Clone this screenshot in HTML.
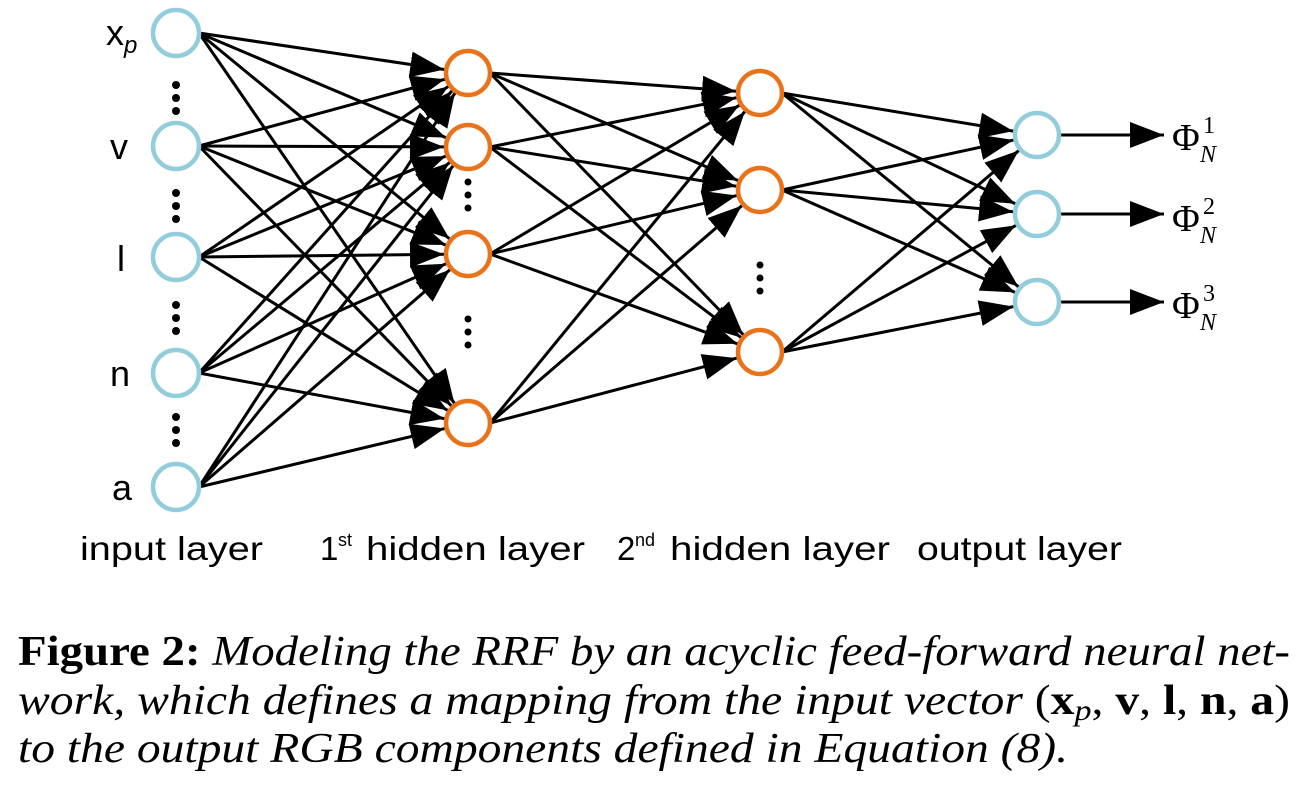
<!DOCTYPE html>
<html><head><meta charset="utf-8"><style>
html,body{margin:0;padding:0;background:#fff;}
svg{display:block}
</style></head><body>
<svg id="s" width="1310" height="788" viewBox="0 0 1310 788" xmlns="http://www.w3.org/2000/svg">
<defs>
<marker id="a" markerUnits="userSpaceOnUse" markerWidth="36" markerHeight="26" refX="34" refY="13" orient="auto">
<path d="M0,0 L34,13 L0,26 Z" fill="#000"/>
</marker>
</defs>
<g id="lines" stroke="#000" stroke-width="3" fill="none"></g>
<g id="nodes" fill="#fff" stroke-width="4.5"></g>
<g fill="#000">
<circle cx="176" cy="85" r="4"/><circle cx="176" cy="98" r="4"/><circle cx="176" cy="111" r="4"/>
<circle cx="176" cy="193" r="4"/><circle cx="176" cy="206" r="4"/><circle cx="176" cy="219" r="4"/>
<circle cx="176" cy="305" r="4"/><circle cx="176" cy="318" r="4"/><circle cx="176" cy="331" r="4"/>
<circle cx="176" cy="417" r="4"/><circle cx="176" cy="430" r="4"/><circle cx="176" cy="443" r="4"/>
<circle cx="468" cy="182" r="3.5"/><circle cx="468" cy="195" r="3.5"/><circle cx="468" cy="208" r="3.5"/>
<circle cx="468" cy="319" r="3.5"/><circle cx="468" cy="332" r="3.5"/><circle cx="468" cy="345" r="3.5"/>
<circle cx="760" cy="265" r="3.5"/><circle cx="760" cy="278" r="3.5"/><circle cx="760" cy="291" r="3.5"/>
</g>
<g font-family="Liberation Sans, sans-serif" font-size="36" fill="#000">
<text x="106" y="45">x<tspan font-size="24" font-style="italic" dy="8">p</tspan></text>
<text x="110" y="159">v</text>
<text x="117" y="271">l</text>
<text x="110" y="386">n</text>
<text x="112" y="500">a</text>
</g>
<g font-family="Liberation Serif, serif" font-size="38" fill="#000">
<text x="1172" y="150">Φ</text><text x="1203" y="133" font-size="24">1</text><text x="1200" y="162" font-size="24" font-style="italic">N</text>
<text x="1172" y="231">Φ</text><text x="1203" y="214" font-size="24">2</text><text x="1200" y="243" font-size="24" font-style="italic">N</text>
<text x="1172" y="318">Φ</text><text x="1203" y="301" font-size="24">3</text><text x="1200" y="330" font-size="24" font-style="italic">N</text>
</g>
<g font-family="Liberation Sans, sans-serif" font-size="33" fill="#000">
<text x="80" y="560" textLength="183" lengthAdjust="spacingAndGlyphs">input layer</text>
<text x="320" y="560">1</text><text x="338" y="546" font-size="18">st</text>
<text x="366" y="560" textLength="219" lengthAdjust="spacingAndGlyphs">hidden layer</text>
<text x="617" y="560">2</text><text x="635" y="546" font-size="18">nd</text>
<text x="670" y="560" textLength="220" lengthAdjust="spacingAndGlyphs">hidden layer</text>
<text x="917" y="560" textLength="205" lengthAdjust="spacingAndGlyphs">output layer</text>
</g>
<g font-family="Liberation Serif, serif" font-size="42" fill="#000">
<text x="18" y="665" textLength="1272" lengthAdjust="spacingAndGlyphs"><tspan font-weight="bold" font-style="normal">Figure 2:</tspan><tspan font-style="italic"> Modeling the RRF by an acyclic feed-forward neural net-</tspan></text>
<text x="18" y="714" textLength="1272" lengthAdjust="spacingAndGlyphs"><tspan font-style="italic">work, which defines a mapping from the input vector </tspan>(<tspan font-weight="bold">x</tspan><tspan font-style="italic" font-size="30" dy="6">p</tspan><tspan dy="-6">, </tspan><tspan font-weight="bold">v</tspan>, <tspan font-weight="bold">l</tspan>, <tspan font-weight="bold">n</tspan>, <tspan font-weight="bold">a</tspan>)</text>
<text x="18" y="762" textLength="1050" lengthAdjust="spacingAndGlyphs" font-style="italic">to the output RGB components defined in Equation (8).</text>
</g>
</svg>
<script>
var L=[[176,[33,146,257,373,487],23,'#93cddb'],[468,[73,147,254,423],22,'#e8731a'],[760,[93,190,352],22,'#e8731a'],[1037,[135,214,302],22,'#93cddb']];
var NS='http://www.w3.org/2000/svg',g=document.getElementById('lines'),n=document.getElementById('nodes');
function ln(x1,y1,x2,y2,r){var dx=x2-x1,dy=y2-y1,d=Math.hypot(dx,dy);var e=document.createElementNS(NS,'line');
e.setAttribute('x1',x1);e.setAttribute('y1',y1);e.setAttribute('x2',x2-dx/d*r);e.setAttribute('y2',y2-dy/d*r);e.setAttribute('marker-end','url(#a)');g.appendChild(e);}
for(var i=0;i<3;i++){var A=L[i],B=L[i+1];A[1].forEach(function(y1){B[1].forEach(function(y2){ln(A[0]+A[2],y1,B[0],y2,B[2]+2);});});}
L[3][1].forEach(function(y){ln(1059,y,1164,y,0);});
L.forEach(function(l){l[1].forEach(function(y){var c=document.createElementNS(NS,'circle');c.setAttribute('cx',l[0]);c.setAttribute('cy',y);c.setAttribute('r',l[2]);c.setAttribute('stroke',l[3]);n.appendChild(c);});});
</script>
</body></html>
